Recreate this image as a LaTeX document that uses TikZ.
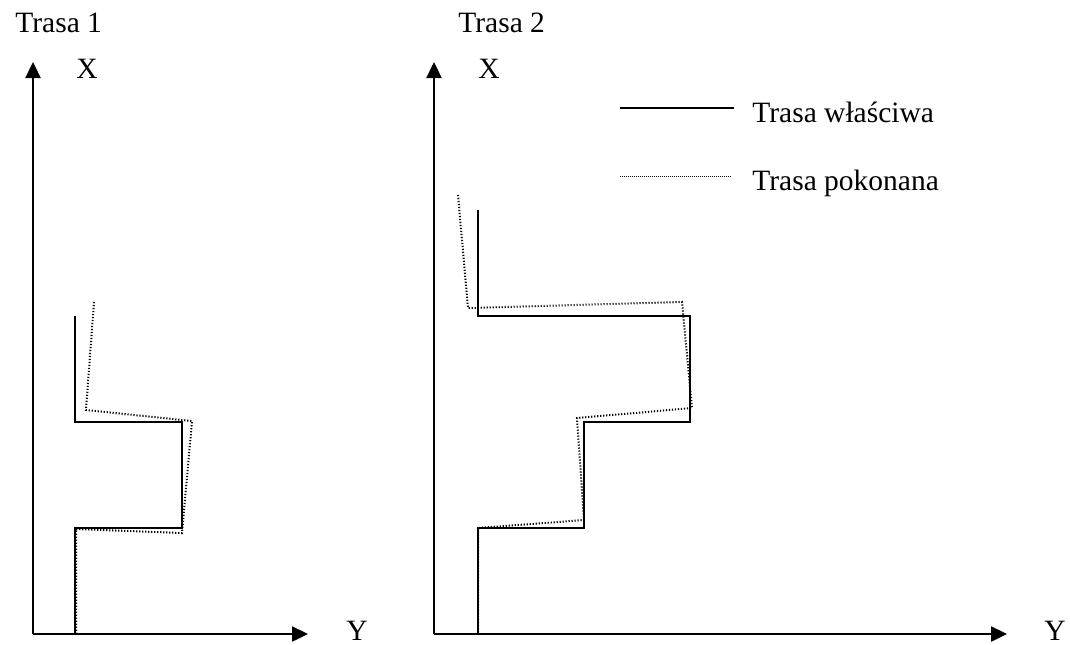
\documentclass[tikz,border=0pt]{standalone}
\usepackage{fontspec}
\setmainfont{Liberation Serif}
\usetikzlibrary{arrows.meta}
\begin{document}
\begin{tikzpicture}[x=0.5pt,y=-0.5pt,
  axis/.style={line width=1.2pt,-{Triangle[length=8pt,width=7.5pt]}},
  route/.style={line width=1.2pt},
  trace/.style={line width=1pt,dash pattern=on 0.6pt off 0.9pt},
  legtrace/.style={line width=0.5pt,dash pattern=on 0.4pt off 0.6pt},
  lbl/.style={inner sep=0pt,anchor=base west,font=\fontsize{14.75}{17}\selectfont},
  axlbl/.style={inner sep=0pt,anchor=base,font=\fontsize{14.75}{17}\selectfont}]
\useasboundingbox (0,0) rectangle (1070,644);

% titles
\node[lbl] (t1) at (15,32) {Trasa 1};
\node[lbl] (t2) at (458,32) {Trasa 2};

% first diagram: axes
\coordinate (o1) at (33,634);
\coordinate (x1) at (33,62);
\coordinate (y1) at (308,634);
\draw[axis] (o1) -- (x1);
\draw[axis] (o1) -- (y1);
\node[axlbl] (lx1) at (87,78) {X};
\node[axlbl] (ly1) at (357,640) {Y};

% first diagram: intended and travelled routes
\draw[route] (75,316) -- (75,422) -- (182,422) -- (182,528) -- (75,528) -- (75,634);
\draw[trace] (94,302) -- (86,410) -- (192,421) -- (182,533) -- (76,529) -- (76,634);

% second diagram: axes
\coordinate (o2) at (434,634);
\coordinate (x2) at (434,62);
\coordinate (y2) at (1007,634);
\draw[axis] (o2) -- (x2);
\draw[axis] (o2) -- (y2);
\node[axlbl] (lx2) at (489,78) {X};
\node[axlbl] (ly2) at (1055,640) {Y};

% second diagram: intended and travelled routes
\draw[route] (478,210) -- (478,316) -- (690,316) -- (690,422) -- (584,422) -- (584,528) -- (478,528) -- (478,634);
\draw[trace] (458,195) -- (468,308) -- (682,302) -- (692,408) -- (577,418) -- (584,520) -- (478,528) -- (478,634);

% legend
\coordinate (l1a) at (620,108);
\coordinate (l1b) at (734,108);
\coordinate (l2a) at (620,176);
\coordinate (l2b) at (731,176);
\draw[route] (l1a) -- (l1b);
\draw[legtrace] (l2a) -- (l2b);
\node[lbl] (leg1) at (752,122.5) {Trasa właściwa};
\node[lbl] (leg2) at (752,190) {Trasa pokonana};
\end{tikzpicture}
\end{document}
